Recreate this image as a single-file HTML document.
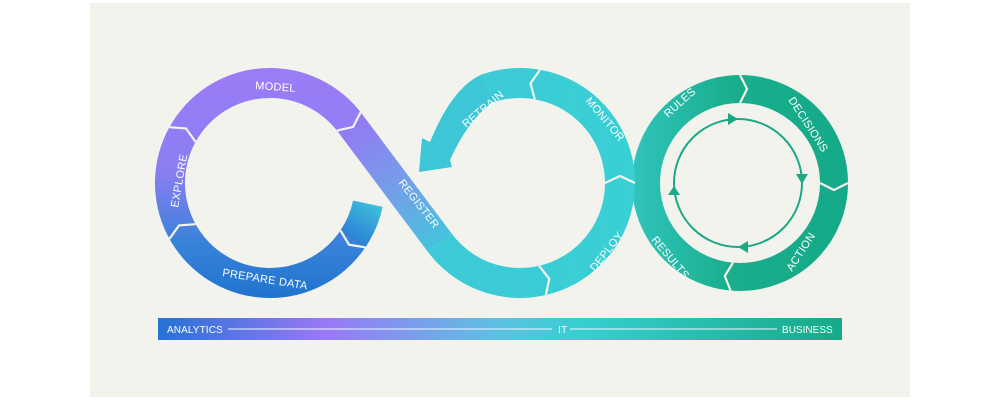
<!DOCTYPE html>
<html><head><style>
html,body{margin:0;padding:0;background:#fff;}
svg{display:block;}
text{font-family:"Liberation Sans",sans-serif;fill:#fff;font-size:11px;letter-spacing:0.3px;}
</style></head><body>
<svg width="1000" height="400" viewBox="0 0 1000 400">
<defs>
<linearGradient id="gl" gradientUnits="userSpaceOnUse" x1="0" y1="70" x2="0" y2="298">
<stop offset="0" stop-color="#9b7cf7"/><stop offset="0.45" stop-color="#8a7ef2"/><stop offset="0.75" stop-color="#3a82da"/><stop offset="1" stop-color="#1f74cf"/></linearGradient>
<linearGradient id="gd" gradientUnits="userSpaceOnUse" x1="350" y1="123" x2="440" y2="243">
<stop offset="0" stop-color="#9479f4"/><stop offset="0.55" stop-color="#72a0e8"/><stop offset="1" stop-color="#45c3de"/></linearGradient>
<linearGradient id="gm" gradientUnits="userSpaceOnUse" x1="405" y1="0" x2="635" y2="0">
<stop offset="0" stop-color="#3ec8d8"/><stop offset="1" stop-color="#38d0d4"/></linearGradient>
<linearGradient id="gg" gradientUnits="userSpaceOnUse" x1="632" y1="0" x2="848" y2="0">
<stop offset="0" stop-color="#30c4bd"/><stop offset="0.45" stop-color="#19ae8c"/><stop offset="1" stop-color="#14a988"/></linearGradient>
<linearGradient id="gb" gradientUnits="userSpaceOnUse" x1="160" y1="0" x2="842" y2="0">
<stop offset="0" stop-color="#2673d4"/><stop offset="0.24" stop-color="#9a78f6"/><stop offset="0.5" stop-color="#5cc2e2"/><stop offset="0.62" stop-color="#36cfd0"/><stop offset="1" stop-color="#16aa86"/></linearGradient>
<linearGradient id="gc" gradientUnits="userSpaceOnUse" x1="360" y1="245" x2="385" y2="205">
<stop offset="0" stop-color="#2a7fd4"/><stop offset="1" stop-color="#40c6dc"/></linearGradient>
</defs>
<rect x="90" y="3" width="820" height="394" fill="#f3f3ee"/>

<!-- green ring -->
<circle cx="740" cy="183" r="94" fill="none" stroke="url(#gg)" stroke-width="28"/>
<!-- left loop -->
<path d="M367.8 203.8 A100 100 0 1 1 350 123" fill="none" stroke="url(#gl)" stroke-width="30"/>
<path d="M352.9 238.9 A100 100 0 0 0 367.8 203.8" fill="none" stroke="url(#gc)" stroke-width="30"/>
<!-- middle circle: from 143.13 counterclockwise to -110 -->
<path d="M440 243 A100 100 0 1 0 485.8 89" fill="none" stroke="url(#gm)" stroke-width="30"/>
<!-- diagonal -->
<path d="M350 123 L440 243" fill="none" stroke="url(#gd)" stroke-width="30"/>
<!-- retrain arrow -->
<path d="M482 74.5 L481 74.9 Q452 88 430 142 L422 138 L419 172 L452 167 L450 160 Q468 120 492 102.8 Z" fill="#3cc6d6"/>

<!-- chevrons -->
<g fill="none" stroke="#f3f3ee" stroke-width="2.2" stroke-linejoin="miter">
<polyline points="195.6,141.8 185.9,128.4 169.4,127.2"/>
<polyline points="337,130.6 353.1,126.9 360.6,112.2"/>
<polyline points="195.6,224.2 179.1,225.4 169.4,238.8"/>
<polyline points="340.5,230.5 349,244.7 365.3,247.3"/>
<polyline points="539.1,265.8 549.3,278.8 545.9,295"/>
<polyline points="534.8,99.3 530.5,83.3 540,69.7"/>
<polyline points="605,183 620,176 635,183"/>
<polyline points="740,103 747,89 740,75"/>
<polyline points="820,183 834,190 848,183"/>
<polyline points="733,262.7 724.8,276 730.6,290.6"/>
</g>

<!-- inner cycle -->
<circle cx="738" cy="183" r="64" fill="none" stroke="#1aa887" stroke-width="2"/>
<g fill="#1aa887">
<polygon points="738,119 728,113 728,125"/>
<polygon points="802,184 796,174 808,174"/>
<polygon points="738,247 748,241 748,253"/>
<polygon points="674,186 668,195 680,195"/>
</g>

<!-- labels -->
<text x="255" y="89" transform="rotate(4 255 89)">MODEL</text>
<text x="0" y="0" transform="translate(178 208) rotate(-80)">EXPLORE</text>
<text x="0" y="0" transform="translate(222 276) rotate(9)">PREPARE DATA</text>
<text x="0" y="0" transform="translate(398 183) rotate(52)">REGISTER</text>
<text x="0" y="0" transform="translate(466 128) rotate(-40)">RETRAIN</text>
<text x="0" y="0" transform="translate(585 101) rotate(50)">MONITOR</text>
<text x="0" y="0" transform="translate(595 272) rotate(-52)">DEPLOY</text>
<text x="0" y="0" transform="translate(668 118) rotate(-42)">RULES</text>
<text x="0" y="0" transform="translate(788 100) rotate(57)">DECISIONS</text>
<text x="0" y="0" transform="translate(651 240) rotate(50)">RESULTS</text>
<text x="0" y="0" transform="translate(792 272) rotate(-57)">ACTION</text>

<!-- bottom bar -->
<rect x="158" y="318" width="684" height="22" fill="url(#gb)"/>
<text x="167" y="333" style="font-size:10px" textLength="56">ANALYTICS</text>
<text x="558" y="333" style="font-size:10px">IT</text>
<text x="782" y="333" style="font-size:10px" textLength="51">BUSINESS</text>
<g stroke="#e8f3ff" stroke-width="1.2" opacity="0.85">
<line x1="228" y1="329" x2="552" y2="329"/>
<line x1="570" y1="329" x2="777" y2="329"/>
</g>
</svg>
</body></html>
